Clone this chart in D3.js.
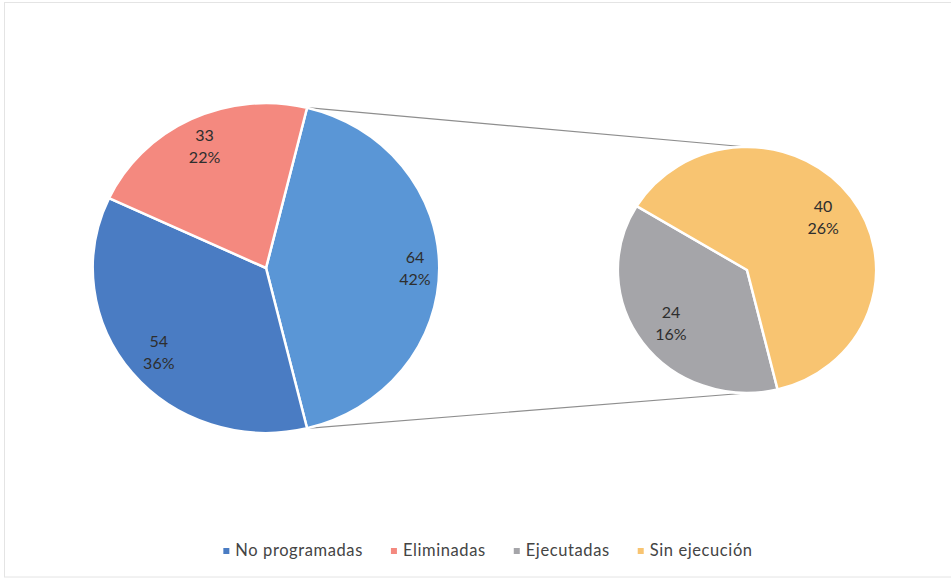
<!DOCTYPE html>
<html>
<head>
<meta charset="utf-8">
<script src="https://cdn.jsdelivr.net/npm/d3@7"></script>
<style>
  body { margin: 0; background: #fff; }
  svg { display: block; }
  text { font-family: Lato, "Open Sans", sans-serif; }
</style>
</head>
<body>
<svg id="chart" width="951" height="580"></svg>
<script>
// main pie categories (the rest goes to the second pie)
var mainCats = ["No programadas", "Eliminadas"];
var mainVals = [54, 33];
// second pie: detail of the split slice
var subCats = ["Ejecutadas", "Sin ejecución"];
var subVals = [24, 40];
var legendCats = ["No programadas", "Eliminadas", "Ejecutadas", "Sin ejecución"];

var colors = {
  "Otras": "#5a96d6",
  "No programadas": "#4a7cc3",
  "Eliminadas": "#f4897f",
  "Ejecutadas": "#a5a5a9",
  "Sin ejecución": "#f8c471"
};

var svg = d3.select("#chart");
var sx = 1.05; // the scan is a little stretched sideways

var main = {cx: 266, cy: 268, r: 165, lab: [0.86, 0.8, 0.82]};
var sub = {cx: 747, cy: 270, r: 123, lab: [0.73, 0.73]};

var otherVal = d3.sum(subVals);
var total = d3.sum(mainVals) + otherVal;
var otherAng = otherVal / total * 2 * Math.PI;
var mainStart = Math.PI / 2 - otherAng / 2;
var mainEnd = mainStart + otherAng;

var mainData = [{name: "Otras", value: otherVal}];
mainCats.forEach(function(c, i) { mainData.push({name: c, value: mainVals[i]}); });
var subData = subCats.map(function(c, i) { return {name: c, value: subVals[i]}; });

// light frame of the scanned chart area
svg.append("rect")
    .attr("x", 4.5).attr("y", 2.5)
    .attr("width", 970).attr("height", 574.5)
    .attr("fill", "none")
    .attr("stroke", "#e4e4e4");

function pt(p, ang, rr) {
  return [p.cx + rr * Math.sin(ang) * sx, p.cy - rr * Math.cos(ang)];
}

// connector lines
var a1 = pt(main, mainStart, main.r), a2 = pt(main, mainEnd, main.r);
svg.append("line")
    .attr("x1", a1[0]).attr("y1", a1[1])
    .attr("x2", sub.cx).attr("y2", sub.cy - sub.r)
    .attr("stroke", "#8e8e8e").attr("stroke-width", 1.2);
svg.append("line")
    .attr("x1", a2[0]).attr("y1", a2[1])
    .attr("x2", sub.cx).attr("y2", sub.cy + sub.r)
    .attr("stroke", "#8e8e8e").attr("stroke-width", 1.2);

function drawPie(p, data, start) {
  var pie = d3.pie().sort(null).value(function(d) { return d.value; })
      .startAngle(start).endAngle(start + 2 * Math.PI);
  var arcs = pie(data);
  var arc = d3.arc().innerRadius(0).outerRadius(p.r);

  svg.append("g")
      .attr("transform", "translate(" + p.cx + "," + p.cy + ") scale(" + sx + ",1)")
    .selectAll("path")
    .data(arcs)
    .enter().append("path")
      .attr("d", arc)
      .attr("fill", function(d) { return colors[d.data.name]; })
      .attr("stroke", "#fff")
      .attr("stroke-width", 2.5)
      .attr("vector-effect", "non-scaling-stroke");

  var labels = svg.append("g")
      .attr("transform", "translate(" + p.cx + "," + p.cy + ")")
    .selectAll("text")
    .data(arcs)
    .enter().append("text")
      .attr("text-anchor", "middle")
      .attr("font-size", 16)
      .attr("fill", "#2e2e2e")
      .attr("transform", function(d, i) {
        var rr = p.r * p.lab[i];
        var c = d3.arc().innerRadius(rr).outerRadius(rr).centroid(d);
        return "translate(" + (c[0] * sx) + "," + c[1] + ")";
      });
  labels.append("tspan").attr("x", 0).attr("y", -5)
      .text(function(d) { return d.data.value; });
  labels.append("tspan").attr("x", 0).attr("y", 17)
      .text(function(d) { return Math.round(d.data.value / total * 100) + "%"; });
}

drawPie(main, mainData, mainStart);
drawPie(sub, subData, mainEnd);

// legend
var legend = svg.append("g");
var x = 0;
legendCats.forEach(function(c) {
  var item = legend.append("g").attr("transform", "translate(" + x + ",0)");
  item.append("rect")
      .attr("x", 0).attr("y", -8)
      .attr("width", 6).attr("height", 6)
      .attr("fill", colors[c]);
  var t = item.append("text")
      .attr("x", 12).attr("y", 0)
      .attr("font-size", 16.5)
      .attr("letter-spacing", 0.6)
      .attr("fill", "#444")
      .text(c);
  x += 12 + t.node().getComputedTextLength() + 28;
});
var legW = x - 28;
legend.attr("transform", "translate(" + (488 - legW / 2) + ",556)");
</script>
</body>
</html>
